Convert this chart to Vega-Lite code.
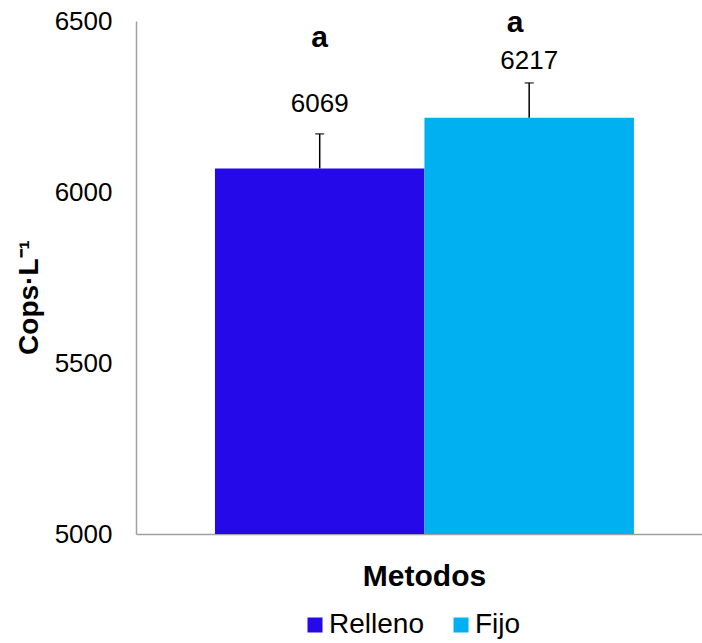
{
  "$schema": "https://vega.github.io/schema/vega-lite/v6.json",
  "autosize": "none",
  "width": 566,
  "height": 513,
  "padding": {"left": 136, "top": 21, "right": 0, "bottom": 109},
  "config": {
    "view": {"stroke": null},
    "font": "Liberation Sans",
    "legend": {
      "orient": "none",
      "legendX": 165,
      "legendY": 590,
      "direction": "horizontal",
      "symbolType": "square",
      "symbolSize": 225,
      "symbolStrokeWidth": 0,
      "labelFontSize": 28,
      "labelFont": "Liberation Sans",
      "labelColor": "#000000",
      "labelOffset": 0,
      "columnPadding": 23,
      "title": null
    }
  },
  "data": {
    "values": [
      {"Metodo": "Relleno", "Cops": 6069, "Sup": 6170, "Letra": "a"},
      {"Metodo": "Fijo", "Cops": 6217, "Sup": 6319, "Letra": "a"}
    ]
  },
  "encoding": {
    "x": {
      "field": "Metodo",
      "type": "nominal",
      "sort": ["Relleno", "Fijo"],
      "scale": {"domain": ["Relleno", "Fijo"], "paddingInner": 0, "paddingOuter": 0.351, "align": 0.537},
      "axis": {
        "title": "Metodos",
        "titleFont": "Liberation Sans",
        "titleFontSize": 30,
        "titleFontWeight": "bold",
        "titleColor": "#000000",
        "titleX": 288,
        "titleY": 51,
        "titleAlign": "center",
        "titleBaseline": "alphabetic",
        "labels": false,
        "ticks": false,
        "domainColor": "#a0a0a0",
        "domainWidth": 1.5
      }
    }
  },
  "layer": [
    {
      "mark": {"type": "bar"},
      "encoding": {
        "y": {
          "field": "Cops",
          "type": "quantitative",
          "scale": {"domain": [5000, 6500], "zero": false, "nice": false},
          "axis": {
            "title": "Cops·L⁻¹",
            "titleFont": "Liberation Sans",
            "titleFontSize": 28,
            "titleFontWeight": "bold",
            "titleColor": "#000000",
            "titleAngle": -90,
            "titleX": -99,
            "titleY": 276,
            "titleAlign": "center",
            "titleBaseline": "alphabetic",
            "values": [5000, 5500, 6000, 6500],
            "format": "d",
            "labelFont": "Liberation Sans",
            "labelFontSize": 26,
            "labelColor": "#000000",
            "labelPadding": 24,
            "ticks": false,
            "grid": false,
            "domainColor": "#a0a0a0",
            "domainWidth": 1.5
          }
        },
        "y2": {"datum": 5000},
        "color": {
          "field": "Metodo",
          "type": "nominal",
          "scale": {"domain": ["Relleno", "Fijo"], "range": ["#2509E8", "#00B0F0"]},
          "legend": {"title": null}
        }
      }
    },
    {
      "mark": {"type": "rule", "color": "#000000", "strokeWidth": 1.5},
      "encoding": {
        "y": {"field": "Cops", "type": "quantitative"},
        "y2": {"field": "Sup"}
      }
    },
    {
      "mark": {"type": "tick", "color": "#000000", "size": 9, "thickness": 1.5, "orient": "horizontal"},
      "encoding": {
        "y": {"field": "Sup", "type": "quantitative"}
      }
    },
    {
      "transform": [{"filter": "datum.Metodo === 'Relleno'"}],
      "mark": {"type": "text", "fontSize": 26, "font": "Liberation Sans", "color": "#000000", "baseline": "middle", "dy": -30},
      "encoding": {
        "y": {"field": "Sup", "type": "quantitative"},
        "text": {"field": "Cops", "type": "quantitative"}
      }
    },
    {
      "transform": [{"filter": "datum.Metodo === 'Fijo'"}],
      "mark": {"type": "text", "fontSize": 26, "font": "Liberation Sans", "color": "#000000", "baseline": "middle", "dy": -22},
      "encoding": {
        "y": {"field": "Sup", "type": "quantitative"},
        "text": {"field": "Cops", "type": "quantitative"}
      }
    },
    {
      "transform": [{"filter": "datum.Metodo === 'Relleno'"}],
      "mark": {"type": "text", "fontSize": 30, "font": "Liberation Sans", "fontWeight": "bold", "color": "#000000", "baseline": "middle", "dy": -96},
      "encoding": {
        "y": {"field": "Sup", "type": "quantitative"},
        "text": {"field": "Letra", "type": "nominal"}
      }
    },
    {
      "transform": [{"filter": "datum.Metodo === 'Fijo'"}],
      "mark": {"type": "text", "fontSize": 30, "font": "Liberation Sans", "fontWeight": "bold", "color": "#000000", "baseline": "middle", "dx": -14, "dy": -60},
      "encoding": {
        "y": {"field": "Sup", "type": "quantitative"},
        "text": {"field": "Letra", "type": "nominal"}
      }
    }
  ]
}
